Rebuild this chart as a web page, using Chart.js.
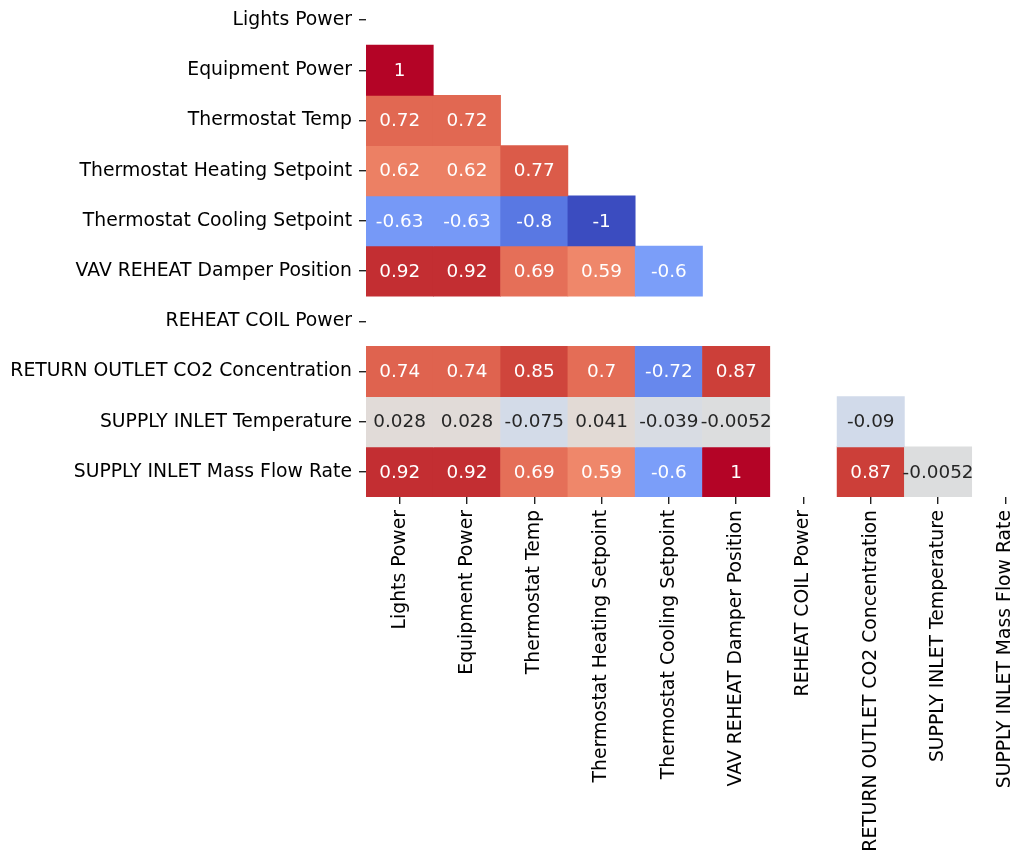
<!DOCTYPE html>
<html>
<head>
<meta charset="utf-8">
<script src="https://cdn.jsdelivr.net/npm/chart.js@4.4.1/dist/chart.umd.min.js"></script>
<style>
  html, body { margin: 0; padding: 0; background: #fff; overflow: hidden; }
  #wrap { position: absolute; left: 0; top: -5px; width: 1039px; height: 859px; }
</style>
</head>
<body>
<div id="wrap"><canvas id="heat"></canvas></div>
<script>
// variable names (rows and columns are the same)
var names = [
  'Lights Power',
  'Equipment Power',
  'Thermostat Temp',
  'Thermostat Heating Setpoint',
  'Thermostat Cooling Setpoint',
  'VAV REHEAT Damper Position',
  'REHEAT COIL Power',
  'RETURN OUTLET CO2 Concentration',
  'SUPPLY INLET Temperature',
  'SUPPLY INLET Mass Flow Rate'
];

// lower triangle of the correlation matrix, null = blank cell
var row0 = [];
var row1 = [1];
var row2 = [0.72, 0.72];
var row3 = [0.62, 0.62, 0.77];
var row4 = [-0.63, -0.63, -0.8, -1];
var row5 = [0.92, 0.92, 0.69, 0.59, -0.6];
var row6 = [null, null, null, null, null, null];
var row7 = [0.74, 0.74, 0.85, 0.7, -0.72, 0.87, null];
var row8 = [0.028, 0.028, -0.075, 0.041, -0.039, -0.0052, null, -0.09];
var row9 = [0.92, 0.92, 0.69, 0.59, -0.6, 1, null, 0.87, -0.0052];
var corr = [row0, row1, row2, row3, row4, row5, row6, row7, row8, row9];

// coolwarm colormap, 33 stops
var cw = [
  [59,76,192],[68,90,204],[77,104,215],[87,117,225],[98,130,234],[108,142,241],
  [119,154,247],[130,165,251],[141,176,254],[152,185,255],[163,194,255],[174,201,253],
  [184,208,249],[194,213,244],[204,217,238],[213,219,230],[221,221,221],[229,216,209],
  [236,211,197],[241,204,184],[245,196,173],[247,187,160],[247,177,148],[247,166,135],
  [244,154,123],[241,141,111],[236,127,99],[229,112,88],[222,96,77],[213,80,66],
  [203,62,56],[192,40,47],[180,4,38]
];
function coolwarm(v) {
  var t = (v + 1) / 2;
  t = Math.max(0, Math.min(1, t)) * (cw.length - 1);
  var i = Math.min(Math.floor(t), cw.length - 2), f = t - i;
  var c = [0,1,2].map(function(k){ return Math.round(cw[i][k] + (cw[i+1][k] - cw[i][k]) * f); });
  return c;
}
function lum(c) {
  var l = c.map(function(x){ x = x / 255; return x <= 0.03928 ? x / 12.92 : Math.pow((x + 0.055) / 1.055, 2.4); });
  return 0.2126 * l[0] + 0.7152 * l[1] + 0.0722 * l[2];
}
function fmt(v) { return String(parseFloat(v.toPrecision(2))); }

var FAMILY = "'DejaVu Sans', sans-serif";
var TICKFONT = { family: FAMILY, size: 18.8 };
var ANNOT_SIZE = 18.4;

var datasets = corr.map(function(row, i) {
  var data = [], colors = [];
  for (var j = 0; j < names.length; j++) {
    var v = row[j];
    if (v === undefined || v === null) { data.push(null); colors.push('rgba(0,0,0,0)'); }
    else {
      data.push([i - 0.5, i + 0.5]);
      colors.push('rgb(' + coolwarm(v).join(',') + ')');
    }
  }
  return { label: names[i], data: data, backgroundColor: colors, borderWidth: 0,
           barPercentage: 1, categoryPercentage: 1, grouped: false, rowIndex: i };
});

var annot = {
  id: 'annot',
  afterDatasetsDraw: function(chart) {
    var ctx = chart.ctx;
    ctx.save();
    ctx.font = ANNOT_SIZE + 'px ' + FAMILY;
    ctx.textAlign = 'center';
    ctx.textBaseline = 'middle';
    chart.data.datasets.forEach(function(ds, di) {
      var meta = chart.getDatasetMeta(di);
      meta.data.forEach(function(el, j) {
        var v = corr[ds.rowIndex][j];
        if (v === undefined || v === null) return;
        ctx.fillStyle = lum(coolwarm(v)) > 0.408 ? 'rgb(38,38,38)' : '#ffffff';
        ctx.fillText(fmt(v), el.x, (el.y + el.base) / 2 + 1);
      });
    });
    ctx.restore();
  }
};

new Chart(document.getElementById('heat'), {
  type: 'bar',
  data: { labels: names, datasets: datasets },
  options: {
    responsive: true,
    maintainAspectRatio: false,
    animation: false,
    layout: { padding: 0 },
    plugins: { legend: { display: false }, tooltip: { enabled: false } },
    scales: {
      x: {
        type: 'category',
        offset: true,
        grid: { display: true, drawOnChartArea: false, drawTicks: true, tickLength: 7, offset: false, color: '#222', lineWidth: 1.4 },
        border: { display: false },
        ticks: { autoSkip: false, maxRotation: 90, minRotation: 90, padding: 6, color: '#000', font: TICKFONT },
        afterFit: function(s) { s.height = 357; s.paddingLeft = 0; s.paddingRight = 0; }
      },
      y: {
        type: 'linear',
        reverse: true,
        min: -0.5,
        max: 9.5,
        afterBuildTicks: function(s) { s.ticks = names.map(function(n, i){ return { value: i }; }); },
        grid: { display: true, drawOnChartArea: false, drawTicks: true, tickLength: 7, color: '#222', lineWidth: 1.4 },
        border: { display: false },
        ticks: { padding: 7, color: '#000', font: TICKFONT, callback: function(v) { return names[v]; } },
        afterFit: function(s) { s.width = 366; s.paddingTop = 0; s.paddingBottom = 0; }
      }
    }
  },
  plugins: [annot]
});
</script>
</body>
</html>
